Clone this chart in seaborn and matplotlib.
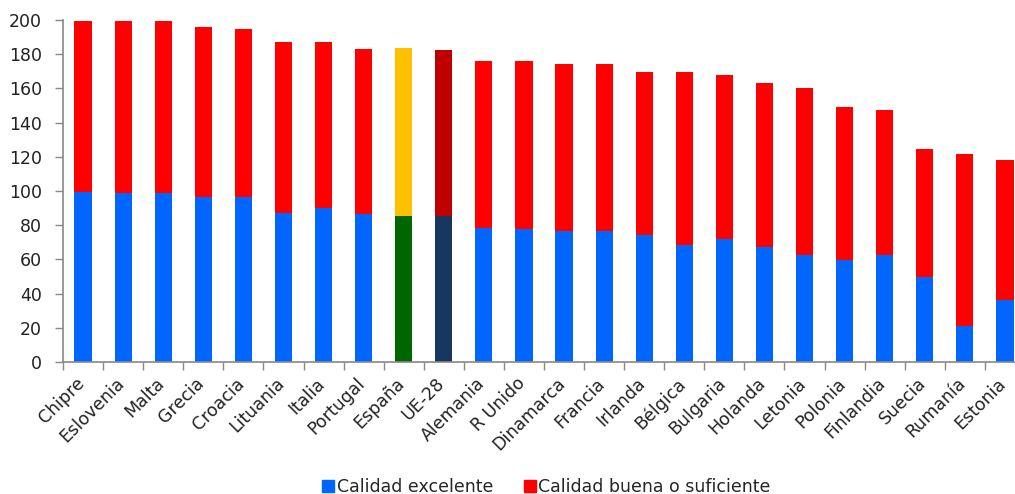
import numpy as np
import matplotlib
matplotlib.use('Agg')
import matplotlib.pyplot as plt
import matplotlib.transforms as mtransforms
from matplotlib.lines import Line2D
import seaborn as sns

paises = ['Chipre', 'Eslovenia', 'Malta', 'Grecia', 'Croacia', 'Lituania', 'Italia',
          'Portugal', 'España', 'UE-28', 'Alemania', 'R Unido', 'Dinamarca', 'Francia',
          'Irlanda', 'Bélgica', 'Bulgaria', 'Holanda', 'Letonia', 'Polonia',
          'Finlandia', 'Suecia', 'Rumanía', 'Estonia']
excelente = [99.2, 99.1, 99.0, 96.4, 96.4, 87.4, 90.3, 86.4, 85.4, 85.4, 78.4, 77.6,
             76.4, 76.4, 74.5, 68.6, 71.7, 67.4, 62.6, 59.8, 62.6, 49.9, 21.3, 36.0]
total = [199.6, 199.6, 199.6, 195.7, 194.7, 186.9, 186.9, 183.2, 183.4, 182.2, 176.1, 176.1,
         174.2, 174.2, 169.3, 169.3, 168.1, 163.2, 160.3, 149.4, 147.4, 124.7, 121.8, 117.9]

# colores especiales para España y UE-28
col_exc = ['#0066FF'] * len(paises)
col_buena = ['#FF0000'] * len(paises)
col_exc[paises.index('España')] = '#006600'
col_buena[paises.index('España')] = '#FFC000'
col_exc[paises.index('UE-28')] = '#17375E'
col_buena[paises.index('UE-28')] = '#C00000'

sns.set_style('white')
plt.rcParams['font.family'] = ['DejaVu Sans']

fig = plt.figure(figsize=(10.15, 4.94), dpi=100)
ax = fig.add_axes([63 / 1015, 1 - 362 / 494, (1025 - 63) / 1015, 342 / 494])

sns.barplot(x=paises, y=total, hue=paises, palette=col_buena, width=0.43,
            legend=False, saturation=1, linewidth=0, ax=ax)
sns.barplot(x=paises, y=excelente, hue=paises, palette=col_exc, width=0.43,
            legend=False, saturation=1, linewidth=0, ax=ax)

ax.set_ylim(0, 200)
ax.set_xlim(-0.5, 23.5)
ax.set_yticks(range(0, 201, 20))
ax.tick_params(axis='y', labelsize=12.5, labelcolor='#222222', length=6, width=1,
               color='#888888', direction='out', left=True, pad=9)
ax.set_xticks(np.arange(-0.5, 24, 1), minor=True)
ax.tick_params(axis='x', which='major', length=0, labelsize=12.5, labelcolor='#222222', pad=9)
ax.tick_params(axis='x', which='minor', length=6, width=1, color='#888888', bottom=True, direction='out')
ax.set_xticks(range(len(paises)))
ax.set_xticklabels(paises, rotation=45, ha='right', va='top', rotation_mode='anchor')

# desplazar las etiquetas un poco a la izquierda
desp = mtransforms.ScaledTranslation(-0.08, 0, fig.dpi_scale_trans)
for lab in ax.get_xticklabels():
    lab.set_transform(lab.get_transform() + desp)

for s in ['top', 'right']:
    ax.spines[s].set_visible(False)
for s in ['left', 'bottom']:
    ax.spines[s].set_color('#888888')
    ax.spines[s].set_linewidth(1.2)

handles = [Line2D([], [], marker='s', linestyle='', color='#0066FF', markersize=9),
           Line2D([], [], marker='s', linestyle='', color='#FF0000', markersize=9)]
fig.legend(handles, ['Calidad excelente', 'Calidad buena o suficiente'],
           loc='center', bbox_to_anchor=(545 / 1015, 1 - 487 / 494), ncol=2,
           frameon=False, fontsize=12.5, handletextpad=0.0, columnspacing=1.6,
           handlelength=1.0)

fig.savefig('out.png', dpi=100)
